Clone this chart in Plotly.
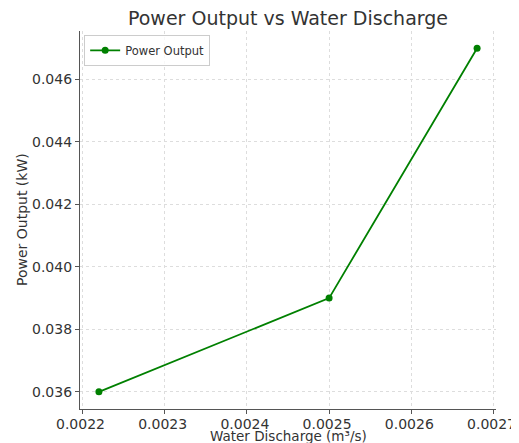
import plotly.graph_objects as go

discharge = [0.00222, 0.0025, 0.00268]
power = [0.036, 0.039, 0.047]
x_ticks = [0.0022, 0.0023, 0.0024, 0.0025, 0.0026, 0.0027]
y_ticks = [0.036, 0.038, 0.040, 0.042, 0.044, 0.046]

font = "DejaVu Sans"
txt = "#333333"

fig = go.Figure()
fig.add_trace(go.Scatter(
    x=discharge, y=power, mode="lines+markers", name="Power Output",
    line=dict(color="#008000", width=1.8),
    marker=dict(color="#008000", size=7),
))

fig.update_layout(
    width=511, height=435,
    margin=dict(l=72, r=23, t=23, b=34, autoexpand=False),
    paper_bgcolor="white", plot_bgcolor="white",
    font=dict(family=font, color=txt),
    title=dict(text="Power Output vs Water Discharge", x=0.5, xanchor="center",
               xref="paper", y=0.977, yref="container", yanchor="middle",
               font=dict(size=19, color=txt)),
    showlegend=True,
    legend=dict(x=0.01, y=0.99, xanchor="left", yanchor="top",
                bgcolor="rgba(255,255,255,0.8)", bordercolor="#cccccc", borderwidth=1,
                font=dict(size=11.5, color=txt), tracegroupgap=0, itemwidth=30),
    xaxis=dict(
        range=[0.002197, 0.002703], tickvals=x_ticks,
        ticktext=[f"{v:.4f}" for v in x_ticks], automargin=False,
        showgrid=True, gridcolor="#dddddd", griddash="dot", gridwidth=1,
        showline=True, linecolor="#555555", linewidth=1.2,
        ticks="outside", ticklen=4, tickcolor="#555555",
        tickfont=dict(size=14, color=txt), zeroline=False, ticklabelshift=-2,
        ticklabelstandoff=-2,
    ),
    yaxis=dict(
        range=[0.03545, 0.04755], tickvals=y_ticks,
        ticktext=[f"{v:.3f}" for v in y_ticks], automargin=False,
        showgrid=True, gridcolor="#dddddd", griddash="dot", gridwidth=1,
        showline=True, linecolor="#555555", linewidth=1.2,
        ticks="outside", ticklen=4, tickcolor="#555555",
        tickfont=dict(size=14, color=txt), zeroline=False,
    ),
    annotations=[
        dict(text="Water Discharge (m³/s)", xref="paper", yref="paper",
             x=0.5, y=-0.0715, xanchor="center", yanchor="middle", showarrow=False,
             font=dict(size=13.5, color=txt)),
        dict(text="Power Output (kW)", xref="paper", yref="paper",
             x=-0.1394, y=0.5, xanchor="center", yanchor="middle", showarrow=False,
             textangle=-90, font=dict(size=14, color=txt)),
    ],
)

fig.write_html("out.html")
